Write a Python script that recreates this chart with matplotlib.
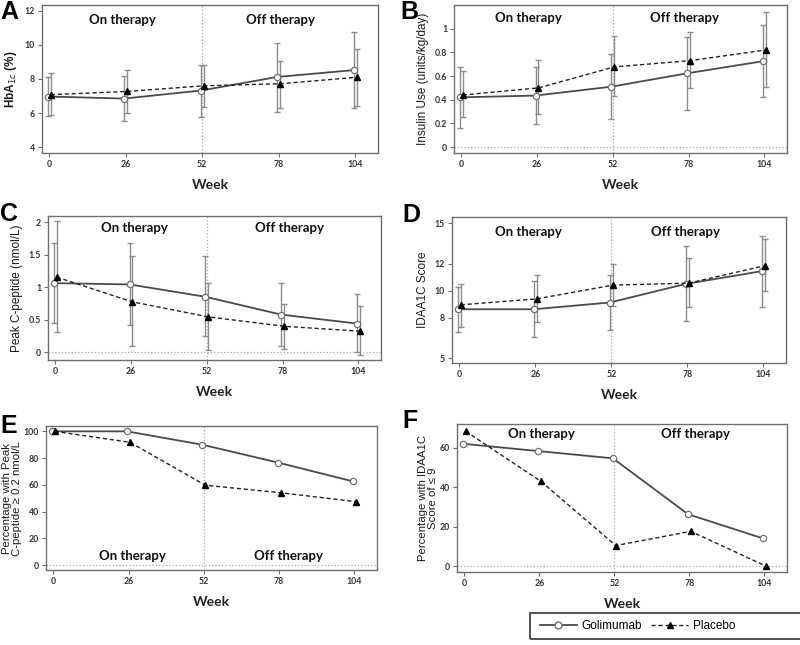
import numpy as np
import matplotlib
matplotlib.use("Agg")
import matplotlib.pyplot as plt
from matplotlib.lines import Line2D
from matplotlib.patches import Rectangle

weeks = [0, 26, 52, 78, 104]

# A - HbA1c
a_gol = [6.97, 6.85, 7.32, 8.12, 8.52]
a_gol_lo = [5.85, 5.55, 5.76, 6.08, 6.27]
a_gol_hi = [8.10, 8.15, 8.82, 10.14, 10.78]
a_pla = [7.08, 7.27, 7.60, 7.72, 8.10]
a_pla_lo = [5.88, 6.03, 6.35, 6.27, 6.41]
a_pla_hi = [8.35, 8.52, 8.82, 9.08, 9.76]

# B - insulin use
b_gol = [0.42, 0.435, 0.51, 0.623, 0.725]
b_gol_lo = [0.16, 0.195, 0.235, 0.31, 0.42]
b_gol_hi = [0.68, 0.675, 0.785, 0.93, 1.03]
b_pla = [0.44, 0.50, 0.677, 0.73, 0.82]
b_pla_lo = [0.25, 0.28, 0.43, 0.495, 0.505]
b_pla_hi = [0.64, 0.735, 0.935, 0.975, 1.14]

# C - peak C-peptide
c_gol = [1.065, 1.045, 0.855, 0.58, 0.442]
c_gol_lo = [0.45, 0.42, 0.245, 0.10, 0.0]
c_gol_hi = [1.69, 1.68, 1.48, 1.07, 0.89]
c_pla = [1.157, 0.776, 0.545, 0.40, 0.324]
c_pla_lo = [0.31, 0.09, 0.04, 0.057, -0.04]
c_pla_hi = [2.03, 1.48, 1.06, 0.75, 0.71]

# D - IDAA1C score
d_gol = [8.62, 8.62, 9.12, 10.5, 11.45]
d_gol_lo = [6.9, 6.54, 7.06, 7.75, 8.77]
d_gol_hi = [10.24, 10.73, 11.15, 13.29, 14.08]
d_pla = [8.95, 9.39, 10.41, 10.56, 11.85]
d_pla_lo = [7.31, 7.65, 8.85, 8.82, 9.96]
d_pla_hi = [10.53, 11.15, 12.0, 12.4, 13.8]

# E - % peak C-peptide >= 0.2
e_gol = [100, 100, 90, 76.7, 62.6]
e_pla = [100, 91.8, 59.7, 54.1, 47.4]

# F - % IDAA1C <= 9
f_gol = [62.0, 58.3, 54.6, 26.3, 14.0]
f_pla = [68.3, 43.0, 10.4, 17.6, 0.0]

W, H = 800, 645
fig = plt.figure(figsize=(W / 100, H / 100), dpi=100)

grey = "#6e6e6e"
ebar = "#8c8c8c"


def make_ax(x0, y0, x1, y1):
    return fig.add_axes([x0 / W, 1 - y1 / H, (x1 - x0) / W, (y1 - y0) / H])


def style(ax, ylim, yticks, ylabel, zero_line=True, ylpad=4, ylsize=8.5):
    ax.set_xlim(-2.5, 111.8)
    ax.set_ylim(*ylim)
    ax.set_xticks(weeks)
    ax.set_yticks(yticks)
    ax.set_yticklabels([f"{t:g}" for t in yticks])
    for s in ax.spines.values():
        s.set_color(grey)
        s.set_linewidth(1.0)
    ax.tick_params(axis="both", length=3, width=0.8, color=grey, labelsize=6.3,
                   pad=2)
    for lab in ax.get_xticklabels() + ax.get_yticklabels():
        lab.set_fontfamily("Lato")
        lab.set_fontweight("bold")
        lab.set_color("#333333")
    ax.axvline(52, color="#aaaaaa", lw=0.9, ls=":", zorder=0)
    if zero_line:
        ax.axhline(0, color="#aaaaaa", lw=0.9, ls=":", zorder=0)
    ax.set_ylabel(ylabel, fontsize=ylsize, family="Liberation Sans",
                  labelpad=ylpad, linespacing=1.0, color="#1a1a1a")
    ax.set_xlabel("Week", fontsize=10, family="Lato", fontweight="bold",
                  color="#222222", labelpad=7)


def series(ax, gol, pla, gol_err=None, pla_err=None):
    xg = np.array(weeks) - 0.5
    xp = np.array(weeks) + 0.5
    if gol_err is not None:
        lo, hi = gol_err
        ax.errorbar(xg, gol, yerr=[np.array(gol) - lo, np.array(hi) - gol],
                    fmt="none", ecolor=ebar, elinewidth=1.0, capsize=2.5,
                    capthick=1.0, zorder=1)
    if pla_err is not None:
        lo, hi = pla_err
        ax.errorbar(xp, pla, yerr=[np.array(pla) - lo, np.array(hi) - pla],
                    fmt="none", ecolor=ebar, elinewidth=1.0, capsize=2.5,
                    capthick=1.0, zorder=1)
    ax.plot(xg, gol, color="#4a4a4a", lw=1.3, marker="o", ms=4.5,
            mfc="white", mec="#707070", mew=0.9, zorder=3)
    ax.plot(xp, pla, color="#222222", lw=1.0, ls=(0, (3, 2)), marker="^",
            ms=4.5, mfc="black", mec="black", zorder=3)


def therapy(ax, x_on, x_off, yfrac):
    for x, t in [(x_on, "On therapy"), (x_off, "Off therapy")]:
        ax.text(x, yfrac, t, transform=ax.get_xaxis_transform(), ha="center",
                va="center", fontsize=9.5, family="Lato", fontweight="bold",
                color="#111111")


def letter(x, y, t):
    fig.text(x / W, 1 - y / H, t, fontsize=18, fontweight="bold",
             family="Liberation Sans", va="center", ha="left")


# A
ax = make_ax(42, 5, 378, 153)
series(ax, a_gol, a_pla, (a_gol_lo, a_gol_hi), (a_pla_lo, a_pla_hi))
style(ax, (3.65, 12.35), [4, 6, 8, 10, 12], "HbA$_{1c}$ (%)", zero_line=False)
ax.yaxis.label.set_fontweight("bold")
therapy(ax, 25, 78.5, 0.9)
letter(0, 12, "A")

# B
ax = make_ax(454, 5, 787, 153)
series(ax, b_gol, b_pla, (b_gol_lo, b_gol_hi), (b_pla_lo, b_pla_hi))
style(ax, (-0.05, 1.2), [0, 0.2, 0.4, 0.6, 0.8, 1], "Insulin Use (units/kg/day)")
therapy(ax, 23, 76.5, 0.91)
letter(400, 12, "B")

# C
ax = make_ax(48, 216, 381, 360)
series(ax, c_gol, c_pla, (c_gol_lo, c_gol_hi), (c_pla_lo, c_pla_hi))
style(ax, (-0.12, 2.1), [0, 0.5, 1, 1.5, 2], "Peak C-peptide (nmol/L)")
therapy(ax, 27, 80.5, 0.92)
letter(0, 214, "C")

# D
ax = make_ax(452, 217, 786, 363)
series(ax, d_gol, d_pla, (d_gol_lo, d_gol_hi), (d_pla_lo, d_pla_hi))
style(ax, (4.63, 15.47), [5, 8, 10, 12, 15], "IDAA1C Score", zero_line=False)
therapy(ax, 23.5, 77.5, 0.9)
letter(402, 215, "D")

# E
ax = make_ax(46, 426, 377, 570)
series(ax, e_gol, e_pla)
style(ax, (-3.7, 104), [0, 20, 40, 60, 80, 100],
      "Percentage with Peak\nC-peptide \u2265 0.2 nmol/L", ylpad=1.5, ylsize=8.2)
therapy(ax, 27.5, 81.3, 0.1)
letter(0, 426, "E")

# F
ax = make_ax(457, 424, 787, 572)
series(ax, f_gol, f_pla)
style(ax, (-3, 72), [0, 20, 40, 60],
      "Percentage with IDAA1C\nScore of \u2264 9", ylpad=1.5, ylsize=8.2)
therapy(ax, 26.7, 80.2, 0.93)
letter(402, 421, "F")

# legend: open-ended box running off the right edge
fig.patches.append(Rectangle((530 / W, 1 - 639 / H), 272 / W, 26 / H,
                             transform=fig.transFigure, fill=False,
                             edgecolor="#333333", lw=1.2))
handles = [
    Line2D([], [], color="#4a4a4a", lw=1.3, marker="o", ms=5, mfc="white",
           mec="#707070"),
    Line2D([], [], color="#222222", lw=1.0, ls=(0, (3, 2)), marker="^", ms=5,
           mfc="black", mec="black"),
]
fig.legend(handles, ["Golimumab", "Placebo"], ncol=2,
           loc="center left", bbox_to_anchor=(540 / W, 1 - 626 / H),
           frameon=False, prop={"family": "Liberation Sans", "size": 8.5},
           handlelength=3.1, handletextpad=0.4, columnspacing=0.8,
           borderpad=0, borderaxespad=0)

fig.savefig("out.png", dpi=100)
